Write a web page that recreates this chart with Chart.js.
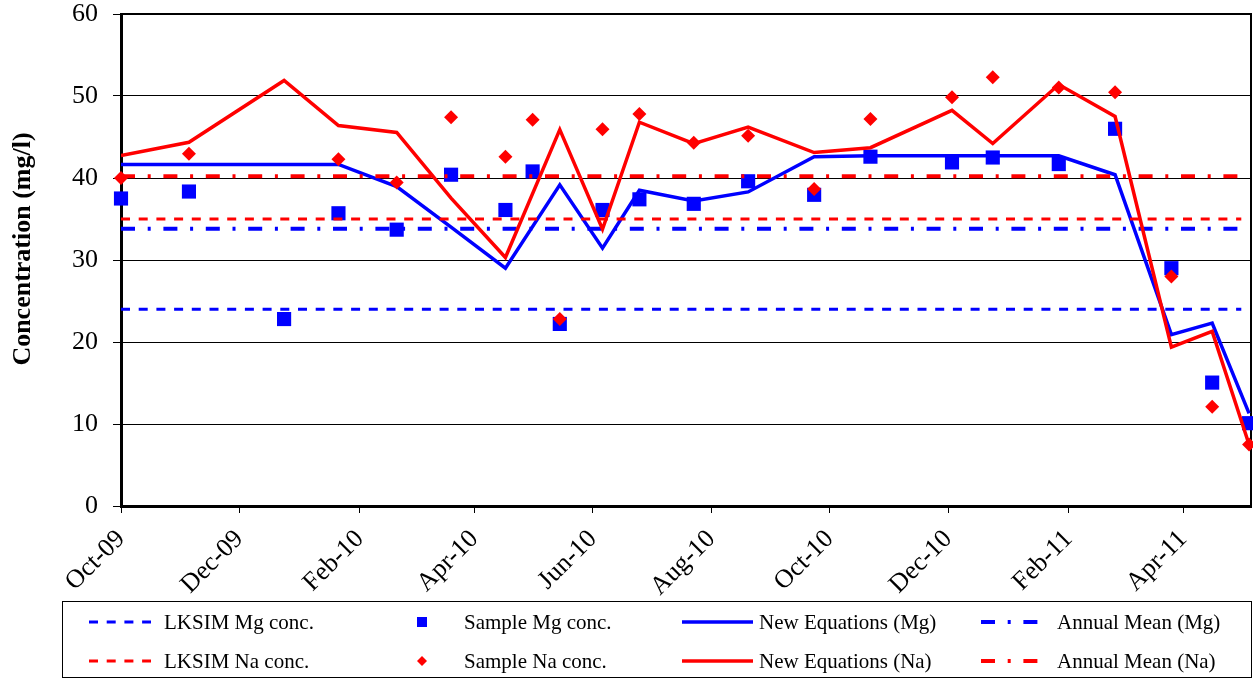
<!DOCTYPE html>
<html><head><meta charset="utf-8">
<script src="https://cdn.jsdelivr.net/npm/chart.js@4.4.0/dist/chart.umd.min.js"></script>
<style>
html,body{margin:0;padding:0;background:#fff;}
#wrap{position:relative;width:1253px;height:678px;overflow:hidden;background:#fff;}
#c{position:absolute;left:0;top:0;}
#legend{position:absolute;left:62px;top:601px;width:1190px;height:77px;border:1px solid #000;box-sizing:border-box;font-family:"Liberation Serif","Times New Roman",serif;font-size:21px;color:#000;}
.lg{position:absolute;white-space:nowrap;line-height:24px;height:24px;transform:translateY(-50%);}
.sym{position:absolute;transform:translateY(-50%);}
</style></head><body>
<div id="wrap"><canvas id="c" width="1261" height="678"></canvas><div id="legend"></div></div>
<script>
// ---------- data ----------
const baseDate = '2009-10-01';
const axisEndDate = '2011-05-06';
const tickDates = ['2009-10-01','2009-12-01','2010-02-01','2010-04-01','2010-06-01','2010-08-01','2010-10-01','2010-12-01','2011-02-01','2011-04-01'];
const tickLabels = ['Oct-09','Dec-09','Feb-10','Apr-10','Jun-10','Aug-10','Oct-10','Dec-10','Feb-11','Apr-11'];
const yTitle = 'Concentration (mg/l)';

const sampleDates = ['2009-10-01','2009-11-05','2009-12-24','2010-01-21','2010-02-20','2010-03-20','2010-04-17','2010-05-01','2010-05-15','2010-06-06','2010-06-25','2010-07-23','2010-08-20','2010-09-23','2010-10-22','2010-12-03','2010-12-24','2011-01-27','2011-02-25','2011-03-26','2011-04-16','2011-05-05'];
const sampleMg = [37.5, 38.35, 22.8, 35.7, 33.7, 40.4, 36.1, 40.8, 22.2, 36.1, 37.4, 36.85, 39.6, 37.95, 42.6, 41.9, 42.5, 41.7, 46.0, 29.0, 15.05, 10.1];
const sampleNa = [40.0, 42.95, null, 42.3, 39.45, 47.4, 42.6, 47.1, 22.8, 45.95, 47.8, 44.3, 45.15, 38.65, 47.2, 49.85, 52.3, 51.05, 50.45, 28.0, 12.1, 7.5];

const modelDates = ['2009-10-01','2009-11-05','2009-12-24','2010-01-21','2010-02-20','2010-03-20','2010-04-17','2010-05-15','2010-06-06','2010-06-25','2010-07-23','2010-08-20','2010-09-23','2010-10-22','2010-12-03','2010-12-24','2011-01-27','2011-02-25','2011-03-26','2011-04-16','2011-05-05'];
const newEqMg = [41.65, 41.65, 41.65, 41.65, 38.96, 34.0, 29.0, 39.17, 31.45, 38.5, 37.2, 38.3, 42.6, 42.7, 42.7, 42.7, 42.7, 40.4, 20.9, 22.3, 11.3];
const newEqNa = [42.75, 44.35, 51.9, 46.4, 45.55, 37.55, 30.3, 45.9, 33.75, 46.8, 44.2, 46.2, 43.1, 43.7, 48.25, 44.2, 51.4, 47.5, 19.36, 21.3, 7.5];

const refDates = ['2009-10-01','2011-05-01'];
const lksimMg = [24.0, 24.0];
const lksimNa = [35.0, 35.0];
const annualMeanMg = [33.8, 33.8];
const annualMeanNa = [40.2, 40.2];

const seriesNames = ['LKSIM Mg conc.','Sample Mg conc.','New Equations (Mg)','Annual Mean (Mg)','LKSIM Na conc.','Sample Na conc.','New Equations (Na)','Annual Mean (Na)'];

// ---------- helpers ----------
const DAY = 86400000;
const dayOf = d => (Date.parse(d + 'T00:00:00Z') - Date.parse(baseDate + 'T00:00:00Z')) / DAY;
const pts = (dates, vals) => dates.map((d, i) => ({x: dayOf(d), y: vals[i]})).filter(p => p.y !== null);

const BLUE = '#0000FF', RED = '#FF0000';
const FONT = '"Liberation Serif","Times New Roman",serif';
const DASH = [9, 8.7];
const DASHDOT = [14, 12.7, 3, 12.7];

function lineDs(label, data, color, width, dash) {
  return {label, data, showLine: true, borderColor: color, backgroundColor: color, borderWidth: width,
          borderDash: dash || [], pointRadius: 0, pointHoverRadius: 0, fill: false, tension: 0};
}
function markerDs(label, data, color, style, r) {
  return {label, data, showLine: false, pointStyle: style, pointRadius: r, pointHoverRadius: r,
          backgroundColor: color, borderColor: color, borderWidth: 0, clip: false};
}

const datasets = [
  lineDs(seriesNames[0], pts(refDates, lksimMg), BLUE, 3, DASH),
  markerDs(seriesNames[1], pts(sampleDates, sampleMg), BLUE, 'rect', 10),
  lineDs(seriesNames[2], pts(modelDates, newEqMg), BLUE, 3.5),
  lineDs(seriesNames[3], pts(refDates, annualMeanMg), BLUE, 4, DASHDOT),
  lineDs(seriesNames[4], pts(refDates, lksimNa), RED, 3, DASH),
  markerDs(seriesNames[5], pts(sampleDates, sampleNa), RED, 'rectRot', 7),
  lineDs(seriesNames[6], pts(modelDates, newEqNa), RED, 3.5),
  lineDs(seriesNames[7], pts(refDates, annualMeanNa), RED, 4, DASHDOT)
];
datasets.forEach((d, i) => d.order = datasets.length - 1 - i);

const frame = {
  id: 'frame',
  beforeDatasetsDraw(chart) {
    const a = chart.chartArea, ctx = chart.ctx;
    ctx.save();
    ctx.strokeStyle = '#000';
    ctx.lineWidth = 2;
    ctx.beginPath();
    ctx.moveTo(a.left, a.top); ctx.lineTo(a.right, a.top); ctx.lineTo(a.right, a.bottom);
    ctx.stroke();
    ctx.restore();
  },
  afterDraw(chart) {
    const ctx = chart.ctx;
    ctx.save();
    ctx.translate(23, 249);
    ctx.rotate(-Math.PI / 2);
    ctx.font = 'bold 26px ' + FONT;
    ctx.fillStyle = '#000';
    ctx.textAlign = 'center';
    ctx.textBaseline = 'middle';
    ctx.fillText(yTitle, 0, 0);
    ctx.restore();
  }
};

new Chart(document.getElementById('c'), {
  type: 'scatter',
  data: {datasets},
  plugins: [frame],
  options: {
    responsive: false,
    animation: false,
    events: [],
    layout: {padding: {left: 0, right: 2, top: 14, bottom: 0}},
    plugins: {legend: {display: false}, tooltip: {enabled: false}},
    scales: {
      x: {
        type: 'linear',
        min: 0,
        max: dayOf(axisEndDate),
        afterBuildTicks: s => { s.ticks = tickDates.map(d => ({value: dayOf(d)})); },
        afterFit: s => { s.height = 172; s.paddingLeft = 0; s.paddingRight = 0; },
        ticks: {
          autoSkip: false, minRotation: 45, maxRotation: 45, padding: 11, color: '#000',
          font: {family: FONT, size: 26},
          callback: (v, i) => tickLabels[i]
        },
        grid: {drawOnChartArea: false, drawTicks: true, tickLength: 7, color: '#000', lineWidth: 1},
        border: {color: '#000', width: 3}
      },
      y: {
        min: 0, max: 60,
        afterFit: s => { s.width = 121; s.paddingTop = 0; s.paddingBottom = 0; },
        ticks: {stepSize: 10, padding: 15, color: '#000', font: {family: FONT, size: 26}},
        grid: {color: '#000', lineWidth: 1, tickLength: 8},
        border: {color: '#000', width: 3}
      }
    }
  }
});

// ---------- HTML legend ----------
const legendEl = document.getElementById('legend');
const L0 = 62, T0 = 601;
const rowsY = [621, 660];
const cols = [
  {kind: 'dash', sx: 88, sw: 62, tx: 163},
  {kind: 'marker', sx: 421, tx: 463},
  {kind: 'solid', sx: 681, sw: 71, tx: 758},
  {kind: 'dashdot', sx: 980, sw: 57, tx: 1056}
];
function svgLine(w, color, width, dash) {
  return '<svg width="' + w + '" height="10"><line x1="0" y1="5" x2="' + w + '" y2="5" stroke="' + color +
    '" stroke-width="' + width + '"' + (dash ? ' stroke-dasharray="' + dash.join(',') + '"' : '') + '/></svg>';
}
function svgMarker(kind, color) {
  if (kind === 'rect') return '<svg width="12" height="12"><rect x="1" y="1" width="10" height="10" fill="' + color + '"/></svg>';
  return '<svg width="12" height="12"><polygon points="6,1 11,6 6,11 1,6" fill="' + color + '"/></svg>';
}
[0, 1].forEach(r => {
  cols.forEach((c, ci) => {
    const ds = datasets[r * 4 + ci];
    const color = ds.borderColor;
    const y = rowsY[r] - T0;
    let html;
    if (c.kind === 'marker') html = svgMarker(ds.pointStyle === 'rect' ? 'rect' : 'diamond', color);
    else if (c.kind === 'dash') html = svgLine(c.sw, color, 3, DASH);
    else if (c.kind === 'dashdot') html = svgLine(c.sw, color, 4, DASHDOT);
    else html = svgLine(c.sw, color, 3.5);
    const s = document.createElement('div');
    s.className = 'sym';
    s.style.left = (c.kind === 'marker' ? c.sx - 6 - L0 : c.sx - L0) + 'px';
    s.style.top = y + 'px';
    s.style.lineHeight = '0';
    s.innerHTML = html;
    legendEl.appendChild(s);
    const t = document.createElement('div');
    t.className = 'lg';
    t.style.left = (c.tx - L0) + 'px';
    t.style.top = y + 'px';
    t.textContent = ds.label;
    legendEl.appendChild(t);
  });
});
</script>
</body></html>
